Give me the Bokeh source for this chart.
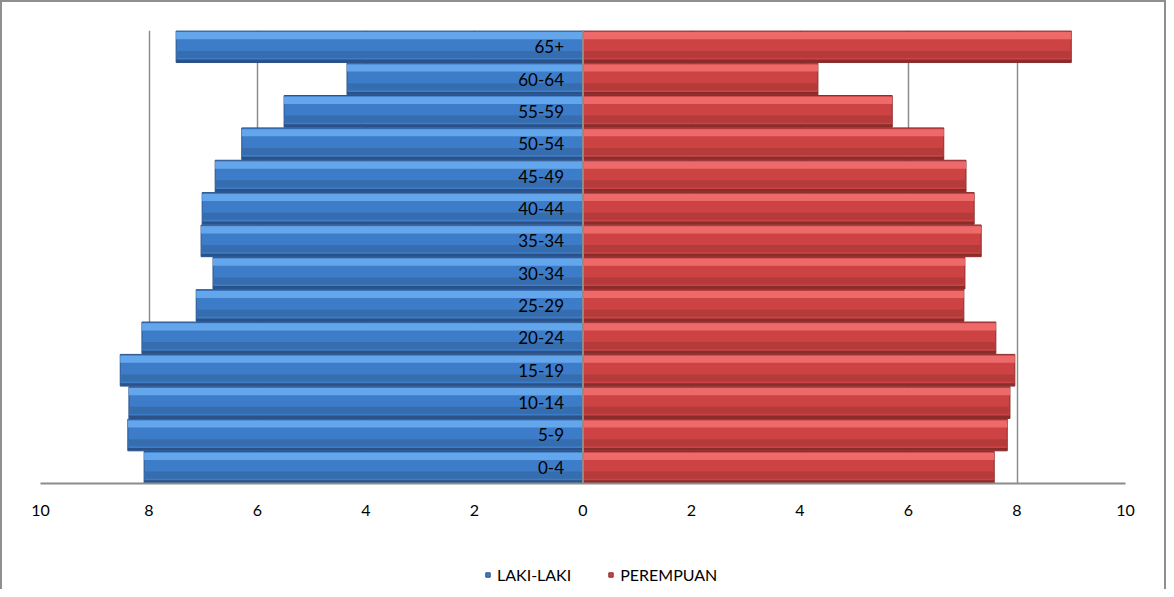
from bokeh.plotting import figure
from bokeh.layouts import column
from bokeh.models import ColumnDataSource, Legend, LegendItem, FixedTicker, Span, CustomJSTickFormatter
from bokeh.embed import file_html
from bokeh.resources import INLINE
from bokeh.core.properties import value

# ---- data ----
age_groups = ["0-4", "5-9", "10-14", "15-19", "20-24", "25-29", "30-34",
              "35-34", "40-44", "45-49", "50-54", "55-59", "60-64", "65+"]
laki_laki = [8.09, 8.39, 8.37, 8.53, 8.13, 7.13, 6.82, 7.04, 7.02, 6.78, 6.29, 5.51, 4.35, 7.50]
perempuan = [7.58, 7.82, 7.87, 7.96, 7.61, 7.02, 7.04, 7.34, 7.21, 7.06, 6.65, 5.70, 4.33, 9.00]
x_ticks = [-10, -8, -6, -4, -2, 0, 2, 4, 6, 8, 10]
series_names = ["LAKI-LAKI", "PEREMPUAN"]

BLUE, BLUE_HI, BLUE_LO, BLUE_EDGE = "#3d7cc9", "#64a6ec", "#366dae", "#2a5288"
RED, RED_HI, RED_LO, RED_EDGE = "#cd4343", "#ee6a6a", "#b53a3a", "#8a2c2c"

idx = list(range(len(age_groups)))
src = ColumnDataSource(dict(
    y=idx,
    y_top=[i + 0.34 for i in idx],
    y_low=[i - 0.24 for i in idx],
    y_bot=[i - 0.44 for i in idx],
    lk=[-v for v in laki_laki],
    pr=perempuan,
    lab=age_groups,
))

FONT = "Lato"

p = figure(frame_width=1085, frame_height=453, x_range=(-10, 10),
           y_range=(-0.5, len(age_groups) - 0.5),
           output_backend="svg", toolbar_location=None,
           min_border_left=38, min_border_right=39, min_border_top=28, min_border_bottom=52)
p.outline_line_color = None
p.yaxis.visible = False
p.ygrid.visible = False

p.xgrid.ticker = FixedTicker(ticks=x_ticks)
p.xgrid.grid_line_color = "#8c8c8c"
p.xgrid.grid_line_width = 1.5

ax = p.xaxis[0]
ax.ticker = FixedTicker(ticks=x_ticks)
ax.formatter = CustomJSTickFormatter(code="return Math.abs(tick).toString();")
ax.major_tick_line_color = None
ax.minor_tick_line_color = None
ax.major_tick_out = 0
ax.major_tick_in = 0
ax.axis_line_color = "#8c8c8c"
ax.axis_line_width = 2
ax.major_label_standoff = 21
ax.major_label_text_font = FONT
ax.major_label_text_font_size = "16px"
ax.major_label_text_color = "#000000"

H = 0.98
# blue (left)
p.hbar(y="y", left="lk", right=0, height=H, source=src, fill_color=BLUE,
       line_color=BLUE_EDGE, line_width=1)
p.hbar(y="y_top", left="lk", right=0, height=0.22, source=src, fill_color=BLUE_HI, line_color=None)
p.hbar(y="y_low", left="lk", right=0, height=0.22, source=src, fill_color=BLUE_LO, line_color=None)
p.hbar(y="y_bot", left="lk", right=0, height=0.08, source=src, fill_color=BLUE_EDGE, line_color=None)
# red (right)
p.hbar(y="y", left=0, right="pr", height=H, source=src, fill_color=RED,
       line_color=RED_EDGE, line_width=1)
p.hbar(y="y_top", left=0, right="pr", height=0.22, source=src, fill_color=RED_HI, line_color=None)
p.hbar(y="y_low", left=0, right="pr", height=0.22, source=src, fill_color=RED_LO, line_color=None)
p.hbar(y="y_bot", left=0, right="pr", height=0.08, source=src, fill_color=RED_EDGE, line_color=None)

p.add_layout(Span(location=0, dimension="height", line_color="#8c8c8c", line_width=2))

p.text(x=-0.35, y="y", text="lab", source=src, text_align="right", text_baseline="middle",
       text_font=value(FONT), text_font_size="17px", text_color="#000000")

# ---- legend strip ----
lp = figure(width=1162, height=54, x_range=(0, 1), y_range=(0, 1),
            output_backend="svg", toolbar_location=None,
            x_axis_type=None, y_axis_type=None,
            min_border_left=0, min_border_right=0, min_border_top=0, min_border_bottom=0)
lp.outline_line_color = None
lp.grid.visible = False
# legend-key renderers, placed outside the visible range of the strip
rb = lp.scatter(x=[5], y=[5], marker="square", size=10, fill_color=BLUE, line_color=BLUE_EDGE)
rr = lp.scatter(x=[5], y=[5], marker="square", size=10, fill_color=RED, line_color=RED_EDGE)
legend = Legend(items=[LegendItem(label=series_names[0], renderers=[rb]),
                       LegendItem(label=series_names[1], renderers=[rr])],
                orientation="horizontal", location=(442, 5),
                label_text_font=FONT, label_text_font_size="16px", label_text_color="#000000",
                glyph_width=11, glyph_height=11, spacing=34, label_standoff=4,
                border_line_color=None, background_fill_alpha=0, margin=0, padding=0)
lp.add_layout(legend, "center")

layout = column(p, lp, spacing=0)
layout.styles = {"border-left": "2px solid #8f8f8f", "border-top": "2px solid #8f8f8f",
                 "border-right": "2px solid #8f8f8f"}

open("out.html", "w").write(file_html(layout, INLINE))
